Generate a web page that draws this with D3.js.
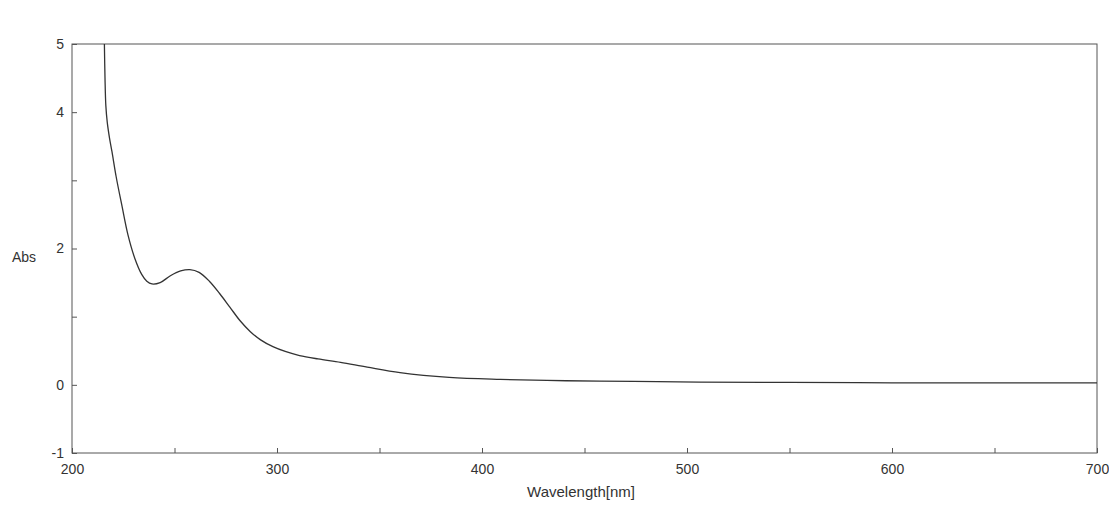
<!DOCTYPE html>
<html>
<head>
<meta charset="utf-8">
<script src="https://cdn.jsdelivr.net/npm/d3@7"></script>
<style>
  body { margin: 0; background: #fff; }
  text { font-family: "Liberation Sans", Arial, sans-serif; fill: #333; }
</style>
</head>
<body>
<svg id="chart" width="1109" height="526"></svg>
<script>
// spectrum: wavelength [nm] and absorbance
var wavelength = [215.8, 216.1, 216.5, 217.2, 218.3, 219.5, 221.5, 224.4, 227.3, 230.7, 234, 236.5, 239, 243, 248, 253, 257.5, 262, 267, 272, 277, 282, 287, 292, 298, 304, 311, 320, 331, 344, 360, 384, 409, 441, 474, 506, 550, 600, 650, 700];
var absorbance = [5.0, 4.5, 4.1, 3.85, 3.62, 3.42, 3.06, 2.62, 2.2, 1.85, 1.62, 1.52, 1.48, 1.5, 1.6, 1.67, 1.69, 1.65, 1.52, 1.34, 1.14, 0.94, 0.78, 0.66, 0.56, 0.49, 0.43, 0.38, 0.33, 0.26, 0.18, 0.11, 0.08, 0.06, 0.05, 0.04, 0.035, 0.03, 0.03, 0.03];

var xTicks = [200, 250, 300, 350, 400, 450, 500, 550, 600, 650, 700];
var xLabels = [200, 300, 400, 500, 600, 700];
var yTicks = [-1, 0, 1, 2, 3, 4, 5];
var yLabels = [-1, 0, 2, 4, 5];

var svg = d3.select("#chart");
// plot box (window.top is reserved, so not named top)
var plotL = 72, plotR = 1097, plotT = 44, plotB = 453;

var x = d3.scaleLinear().domain([200, 700]).range([plotL, plotR]);
var y = d3.scaleLinear().domain([-1, 5]).range([plotB, plotT]);

// x axis, small ticks pointing into the plot
var xAxis = svg.append("g")
    .attr("transform", "translate(0," + plotB + ")")
    .call(d3.axisBottom(x)
        .tickValues(xTicks)
        .tickSize(-5)
        .tickPadding(11)
        .tickFormat(function(d) { return xLabels.indexOf(d) >= 0 ? String(d) : ""; }));

var yAxis = svg.append("g")
    .attr("transform", "translate(" + plotL + ",0)")
    .call(d3.axisLeft(y)
        .tickValues(yTicks)
        .tickSize(-5)
        .tickPadding(8)
        .tickFormat(function(d) { return yLabels.indexOf(d) >= 0 ? String(d) : ""; }));

[xAxis, yAxis].forEach(function(a) {
    a.select(".domain").remove();
    a.selectAll(".tick line").attr("stroke", "#555");
    a.selectAll(".tick text")
        .style("font-size", "14px")
        .style("font-family", "'Liberation Sans', Arial, sans-serif")
        .attr("fill", "#333");
});

// frame
svg.append("rect")
    .attr("x", plotL)
    .attr("y", plotT)
    .attr("width", plotR - plotL)
    .attr("height", plotB - plotT)
    .attr("fill", "none")
    .attr("stroke", "#555")
    .attr("stroke-width", 1);

// the spectrum
var pts = wavelength.map(function(w, i) { return [w, absorbance[i]]; });
var line = d3.line()
    .x(function(d) { return x(d[0]); })
    .y(function(d) { return y(d[1]); })
    .curve(d3.curveCatmullRom.alpha(0.5));

svg.append("path")
    .datum(pts)
    .attr("d", line)
    .attr("fill", "none")
    .attr("stroke", "#333")
    .attr("stroke-width", 1.3);

// axis titles
svg.append("text")
    .attr("x", 12)
    .attr("y", 262)
    .style("font-size", "14px")
    .text("Abs");

svg.append("text")
    .attr("x", 581)
    .attr("y", 497)
    .attr("text-anchor", "middle")
    .style("font-size", "15px")
    .text("Wavelength[nm]");
</script>
</body>
</html>
